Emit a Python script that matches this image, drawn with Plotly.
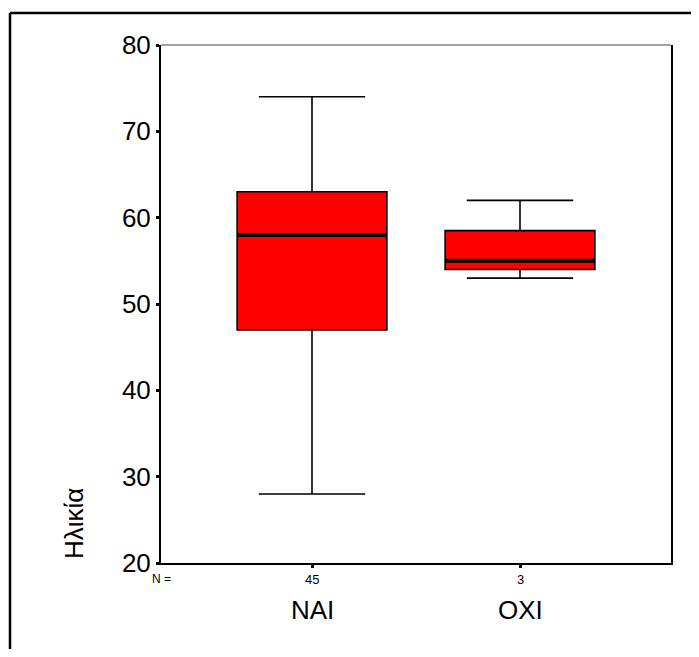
import plotly.graph_objects as go

categories = ["NAI", "OXI"]
n_counts = [45, 3]
lower_whisker = [28, 53]
q1_values = [47, 54]
medians = [58, 55]
q3_values = [63, 58.5]
upper_whisker = [74, 62]
y_ticks = [20, 30, 40, 50, 60, 70, 80]
y_title = "Ηλικία"

FONT = "Arial, Liberation Sans, sans-serif"
BOX_W = 0.72
positions = list(range(len(categories)))

FIG_W, FIG_H = 683, 641
# plot area in figure pixels (page offset of 8px compensated)
L, T, R, B = 153, 37, 663, 555
PW, PH = R - L, B - T


def px(xp):
    return (xp - 8 - L) / PW


def py(yp):
    return (B - (yp - 8)) / PH


fig = go.Figure()
fig.add_trace(go.Box(
    x=positions, q1=q1_values, median=medians, q3=q3_values,
    lowerfence=lower_whisker, upperfence=upper_whisker,
    width=BOX_W, whiskerwidth=0.71,
    fillcolor="#FF0000", line=dict(color="black", width=1.6),
    boxpoints=False, showlegend=False, hoverinfo="skip",
))
for p, m in zip(positions, medians):
    fig.add_trace(go.Scatter(
        x=[p - BOX_W / 2, p + BOX_W / 2], y=[m, m], mode="lines",
        line=dict(color="black", width=4), showlegend=False, hoverinfo="skip",
    ))

annotations = [
    dict(text=y_title, x=px(74), y=py(524), xref="paper", yref="paper",
         xanchor="center", yanchor="middle",
         textangle=-90, showarrow=False, font=dict(family=FONT, size=26, color="black")),
    dict(text="N =", x=px(161), y=py(579), xref="paper", yref="paper",
         xanchor="center", yanchor="middle",
         showarrow=False, font=dict(family=FONT, size=12, color="black")),
]
for p, n, c in zip(positions, n_counts, categories):
    annotations.append(dict(text=str(n), x=p, y=py(579), xref="x", yref="paper",
                            xanchor="center", yanchor="middle",
                            showarrow=False, font=dict(family=FONT, size=13, color="black")))
    annotations.append(dict(text=c, x=p, y=py(610), xref="x", yref="paper",
                            xanchor="center", yanchor="middle",
                            showarrow=False, font=dict(family=FONT, size=26, color="black")))

frame = dict(color="black", width=2.5)
fig.update_layout(
    width=FIG_W, height=FIG_H,
    margin=dict(l=L, r=FIG_W - R, t=T, b=FIG_H - B),
    paper_bgcolor="white", plot_bgcolor="white",
    font=dict(family=FONT, color="black"),
    xaxis=dict(range=[-0.726, 1.726], tickvals=positions, ticktext=["", ""],
               showgrid=False, zeroline=False, showline=True, linecolor="black",
               linewidth=2, ticks="outside", ticklen=3, tickwidth=3, tickcolor="black"),
    yaxis=dict(range=[20, 80], tickvals=y_ticks, showgrid=False, zeroline=False,
               showline=True, linecolor="black", linewidth=2, mirror=True,
               ticks="outside", ticklen=3, tickwidth=3, tickcolor="black",
               tickfont=dict(family=FONT, size=26, color="black")),
    annotations=annotations,
    shapes=[
        dict(type="line", xref="paper", yref="paper", x0=0, x1=1, y0=1, y1=1,
             line=dict(color="#444", width=1)),
        dict(type="line", xref="paper", yref="paper", x0=px(10), y0=py(13),
             x1=px(740), y1=py(13), line=frame, layer="below"),
        dict(type="line", xref="paper", yref="paper", x0=px(10), y0=py(13),
             x1=px(10), y1=py(720), line=frame, layer="below"),
    ],
)

fig.write_html("out.html")
